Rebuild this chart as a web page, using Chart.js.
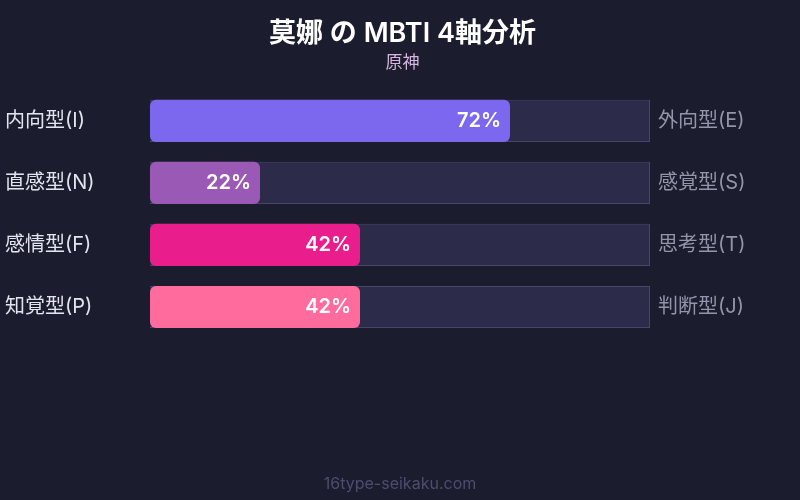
<!DOCTYPE html>
<html>
<head>
<meta charset="utf-8">
<script src="https://cdn.jsdelivr.net/npm/chart.js@4"></script>
<style>
  html, body { margin: 0; padding: 0; background: #1b1c2e; }
  #wrap { width: 800px; height: 500px; }
</style>
</head>
<body>
<div id="wrap"><canvas id="chart"></canvas></div>
<script>
const leftLabels = ['内向型(I)', '直感型(N)', '感情型(F)', '知覚型(P)']
const rightLabels = ['外向型(E)', '感覚型(S)', '思考型(T)', '判断型(J)']
const scores = [72, 22, 42, 42]
const fullScale = [100, 100, 100, 100]
const barColors = ['#7b68ee', '#9b59b6', '#e91e8c', '#ff6b9d']

const FONT = "Inter, 'Noto Sans CJK JP', sans-serif"

const bgPlugin = {
  id: 'bg',
  beforeDraw(chart) {
    const ctx = chart.ctx
    ctx.save()
    ctx.fillStyle = '#1b1c2e'
    ctx.fillRect(0, 0, chart.width, chart.height)
    ctx.restore()
  }
}

const percentPlugin = {
  id: 'percent',
  afterDatasetsDraw(chart) {
    const ctx = chart.ctx
    const meta = chart.getDatasetMeta(1)
    ctx.save()
    ctx.font = '600 20px ' + FONT
    ctx.fillStyle = '#ffffff'
    ctx.textAlign = 'right'
    ctx.textBaseline = 'middle'
    meta.data.forEach((bar, i) => {
      ctx.fillText(scores[i] + '%', bar.x - 9, bar.y)
    })
    ctx.restore()
  }
}

const footerPlugin = {
  id: 'footer',
  afterDraw(chart) {
    const ctx = chart.ctx
    ctx.save()
    ctx.font = '16px ' + FONT
    ctx.fillStyle = '#4d4d6e'
    ctx.textAlign = 'center'
    ctx.textBaseline = 'middle'
    ctx.fillText('16type-seikaku.com', chart.width / 2, 484)
    ctx.restore()
  }
}

new Chart(document.getElementById('chart'), {
  type: 'bar',
  data: {
    labels: leftLabels,
    datasets: [
      {
        label: 'track',
        data: fullScale,
        backgroundColor: '#2d2b4a',
        borderColor: '#46466a',
        borderWidth: 1,
        grouped: false,
        order: 1,
        barPercentage: 0.68,
        categoryPercentage: 1
      },
      {
        label: 'score',
        data: scores,
        backgroundColor: barColors,
        borderWidth: 0,
        borderRadius: 6,
        borderSkipped: false,
        grouped: false,
        order: 0,
        barPercentage: 0.68,
        categoryPercentage: 1
      }
    ]
  },
  options: {
    indexAxis: 'y',
    responsive: true,
    maintainAspectRatio: false,
    animation: false,
    layout: { padding: { left: 5, right: 0, top: 0, bottom: 162 } },
    plugins: {
      legend: { display: false },
      tooltip: { enabled: false },
      title: {
        display: true,
        text: '莫娜 の MBTI 4軸分析',
        color: '#ffffff',
        font: { family: FONT, size: 27, weight: '600' },
        padding: { top: 18, bottom: 2 }
      },
      subtitle: {
        display: true,
        text: '原神',
        color: '#d6b4e0',
        font: { family: FONT, size: 17 },
        padding: { top: 0, bottom: 17 }
      }
    },
    scales: {
      x: {
        min: 0,
        max: 100,
        display: false
      },
      y: {
        position: 'left',
        offset: true,
        grid: { display: false },
        border: { display: false },
        ticks: {
          crossAlign: 'far',
          color: '#e4e4f0',
          font: { family: FONT, size: 20 }
        },
        afterFit(scale) { scale.width = 145 }
      },
      y2: {
        type: 'category',
        position: 'right',
        labels: rightLabels,
        offset: true,
        grid: { display: false },
        border: { display: false },
        ticks: {
          padding: 0,
          color: '#9494aa',
          font: { family: FONT, size: 20 }
        },
        afterFit(scale) { scale.width = 150 }
      }
    }
  },
  plugins: [bgPlugin, percentPlugin, footerPlugin]
})
</script>
</body>
</html>
